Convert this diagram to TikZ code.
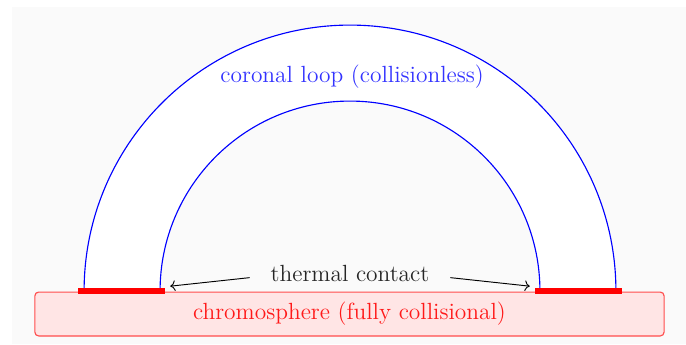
\documentclass[tikz,border=0pt]{standalone}
\usepackage{amsmath, amssymb}
\usepackage{tikz}
\usetikzlibrary{positioning, arrows.meta}
\usepackage{xcolor}

\begin{document}
\begin{tikzpicture}[scale=1.0,
    loopline/.style={blue, line width=0.6pt},
    footline/.style={red, line width=2.7pt},
    chromobox/.style={draw=red!70, fill=red!10, rounded corners=2pt, line width=0.6pt},
    lbl/.style={font=\fontsize{12.45}{15}\selectfont}]
    % Canvas
    \useasboundingbox (-6.542,-0.991) rectangle (6.280,5.439);
    \fill[black!2] (-6.318,-0.991) rectangle (6.280,5.308);
    
    % Chromosphere slab
    \node[chromobox, minimum width=11.76cm, minimum height=0.82cm, inner sep=0pt] (chromo) at (-0.01,-0.43) {};
    \node[lbl, red!90] (chromotext) at (chromo.center) {chromosphere (fully collisional)};
    
    % Coronal loop (white body, blue rims)
    \fill[white] (-4.97,0) arc (180:0:4.97) -- (3.55,0) arc (0:180:3.55) -- cycle;
    \draw[loopline] (-4.97,0) arc (180:0:4.97);
    \draw[loopline] (-3.55,0) arc (180:0:3.55);
    \node[lbl, blue!80] (corona) at (0.04,4.0) {coronal loop (collisionless)};
    
    % Footpoints
    \draw[footline] (-5.08,0) -- (-3.46,0);
    \draw[footline] (3.46,0) -- (5.08,0);
    
    % Thermal contact
    \node[lbl, black!85, inner xsep=11pt] (contact) at (0,0.32) {thermal contact};
    \coordinate (lfoot) at (-3.36,0.09);
    \coordinate (rfoot) at (3.36,0.09);
    \draw[->, line width=0.5pt] ([yshift=-2pt]contact.west) -- (lfoot);
    \draw[->, line width=0.5pt] ([yshift=-2pt]contact.east) -- (rfoot);
\end{tikzpicture}
\end{document}
